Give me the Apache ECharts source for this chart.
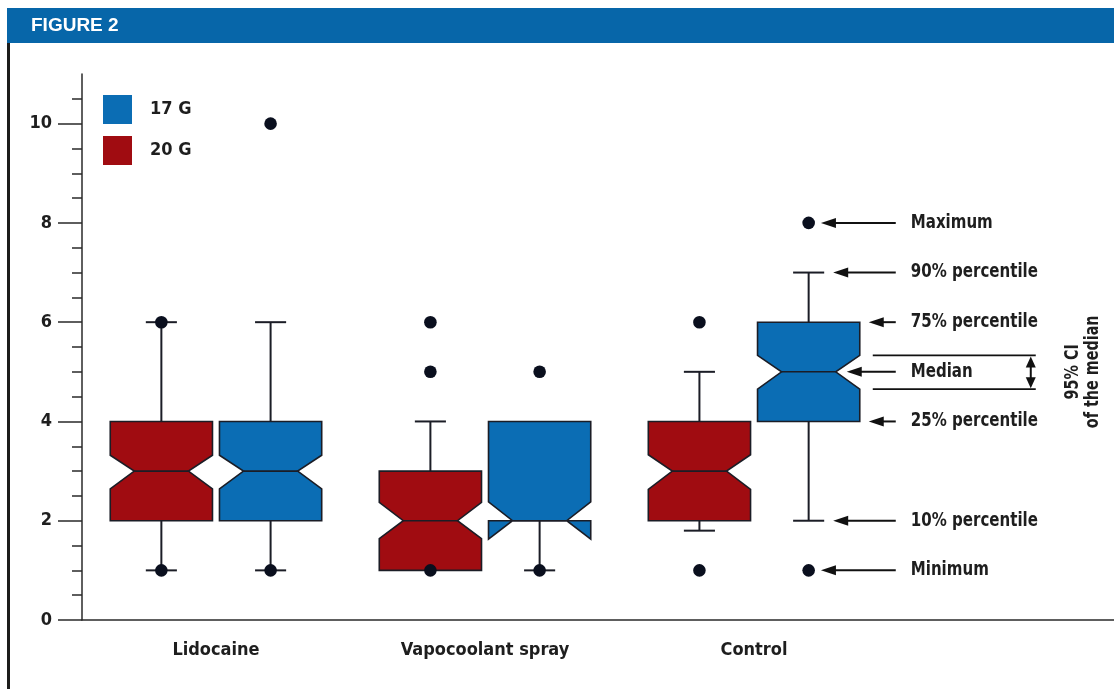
<!DOCTYPE html>
<html><head><meta charset="utf-8">
<script src="https://cdn.jsdelivr.net/npm/echarts@6/dist/echarts.min.js"></script>
<style>html,body{margin:0;padding:0;background:#fff}#c{width:1114px;height:689px}</style>
</head><body><div id="c"></div>
<script>
// ---------- data ----------
const categories = ['Lidocaine', 'Vapocoolant spray', 'Control'];
const seriesNames = ['17 G', '20 G'];

// 17 G (blue)
const g17Low     = [1, 1, 2];       // 10% percentile
const g17Q1      = [2, 2, 4];
const g17Median  = [3, 2, 5];
const g17Q3      = [4, 4, 6];
const g17High    = [6, 4, 7];       // 90% percentile
const g17NotchLo = [2.64, 1.63, 4.65];
const g17NotchHi = [3.32, 2.38, 5.33];
const g17Points  = [[1, 10], [1, 5], [1, 8]];

// 20 G (red)
const g20Low     = [1, 1, 1.8];
const g20Q1      = [2, 1, 2];
const g20Median  = [3, 2, 3];
const g20Q3      = [4, 3, 4];
const g20High    = [6, 4, 5];
const g20NotchLo = [2.64, 1.64, 2.63];
const g20NotchHi = [3.32, 2.37, 3.33];
const g20Points  = [[1, 6], [1, 5, 6], [1, 6]];

const yMajorTicks = [0, 2, 4, 6, 8, 10];
const yMinorTicks = [0.5, 1, 1.5, 2.5, 3, 3.5, 4.5, 5, 5.5, 6.5, 7, 7.5, 8.5, 9, 9.5, 10.5];

const keyLabels = ['Minimum', '10% percentile', '25% percentile', 'Median', '75% percentile', '90% percentile', 'Maximum'];
const ciLabel = '95% CI\nof the median';
const keyGroup = 2; // the annotated box: Control, 17 G

// ---------- style / layout ----------
const BLUE = '#0b6db4', RED = '#a00c11', HEADER = '#0766a9', INK = '#1b1d26', TXT = '#1e1e1e';
const FONT = '"Liberation Sans Narrow", "DejaVu Sans Condensed", "Arial Narrow", sans-serif';
const BOX_W = 0.38, BOX_OFFSET = 0.203, NOTCH_INSET = 0.235, CAP_HALF = 0.152, DOT_R = 6.3;

function boxData(low, q1, med, q3, high, nlo, nhi) {
  return categories.map((c, i) => [i, low[i], q1[i], med[i], q3[i], high[i], nlo[i], nhi[i]]);
}
function pointData(pts) {
  return pts.flatMap((arr, i) => arr.map(v => [i, v]));
}
function geom(api, gi, side) {
  const unit = api.size([1, 0])[0];
  const w = unit * BOX_W;
  const cx = api.coord([gi, 0])[0] + side * unit * BOX_OFFSET;
  return { unit, w, cx, L: cx - w / 2, R: cx + w / 2, ins: w * NOTCH_INSET, cap: w * CAP_HALF, y: v => api.coord([gi, v])[1] };
}
function makeBoxRender(side, color) {
  return function (params, api) {
    const gi = api.value(0);
    const g = geom(api, gi, side);
    const low = api.value(1), q1 = api.value(2), med = api.value(3), q3 = api.value(4), high = api.value(5), nlo = api.value(6), nhi = api.value(7);
    const y = g.y, L = g.L, R = g.R, ins = g.ins;
    const lineStyle = { stroke: INK, lineWidth: 2 };
    const children = [];
    if (high > q3) {
      children.push({ type: 'line', shape: { x1: g.cx, y1: y(q3), x2: g.cx, y2: y(high) }, style: lineStyle });
      children.push({ type: 'line', shape: { x1: g.cx - g.cap, y1: y(high), x2: g.cx + g.cap, y2: y(high) }, style: lineStyle });
    }
    if (low < q1) {
      children.push({ type: 'line', shape: { x1: g.cx, y1: y(q1), x2: g.cx, y2: y(low) }, style: lineStyle });
      children.push({ type: 'line', shape: { x1: g.cx - g.cap, y1: y(low), x2: g.cx + g.cap, y2: y(low) }, style: lineStyle });
    }
    const pts = [[L, y(q3)], [L, y(nhi)], [L + ins, y(med)], [L, y(nlo)], [L, y(q1)],
                 [R, y(q1)], [R, y(nlo)], [R - ins, y(med)], [R, y(nhi)], [R, y(q3)]];
    children.push({ type: 'polygon', shape: { points: pts }, style: { fill: color, stroke: INK, lineWidth: 1.6, lineJoin: 'miter' } });
    children.push({ type: 'line', shape: { x1: L + ins, y1: y(med), x2: R - ins, y2: y(med) }, style: { stroke: INK, lineWidth: 1.6 } });
    return { type: 'group', children };
  };
}
function makePointRender(side) {
  return function (params, api) {
    const g = geom(api, api.value(0), side);
    return { type: 'circle', shape: { cx: g.cx, cy: g.y(api.value(1)), r: DOT_R }, style: { fill: '#0a0f1e' } };
  };
}
function arrow(tipX, tailX, yy, children) {
  const hl = 15, hw = 5;
  children.push({ type: 'line', shape: { x1: tipX + hl - 2, y1: yy, x2: tailX, y2: yy }, style: { stroke: '#111', lineWidth: 2 } });
  children.push({ type: 'polygon', shape: { points: [[tipX, yy], [tipX + hl, yy - hw], [tipX + hl, yy + hw]] }, style: { fill: '#111' } });
}
function keyRender(params, api) {
  const g = geom(api, api.value(0), 1);
  const y = g.y;
  const vMin = api.value(1), p10 = api.value(2), q1 = api.value(3), med = api.value(4), q3 = api.value(5), p90 = api.value(6), vMax = api.value(7), nlo = api.value(8), nhi = api.value(9);
  const tail = g.R + 36, tx = g.R + 51;
  const tips = [g.cx + DOT_R + 6, g.cx + g.cap + 9, g.R + 9, g.R - g.ins + 11, g.R + 9, g.cx + g.cap + 9, g.cx + DOT_R + 6];
  const vals = [vMin, p10, q1, med, q3, p90, vMax];
  const children = [];
  vals.forEach((v, i) => {
    arrow(tips[i], tail, y(v), children);
    children.push({ type: 'text', x: tx, y: y(v), scaleX: 0.88,
      style: { text: keyLabels[i], x: 0, y: 0, fill: TXT, font: 'bold 19px ' + FONT, align: 'left', verticalAlign: 'middle' } });
  });
  // CI bracket
  const bx1 = g.R + 13, bx2 = g.R + 176, ax = g.R + 171;
  [nhi, nlo].forEach(v => children.push({ type: 'line', shape: { x1: bx1, y1: y(v), x2: bx2, y2: y(v) }, style: { stroke: '#111', lineWidth: 1.8 } }));
  const yT = y(nhi) + 1, yB = y(nlo) - 1;
  children.push({ type: 'line', shape: { x1: ax, y1: yT + 8, x2: ax, y2: yB - 8 }, style: { stroke: '#111', lineWidth: 2 } });
  children.push({ type: 'polygon', shape: { points: [[ax, yT], [ax - 5, yT + 11], [ax + 5, yT + 11]] }, style: { fill: '#111' } });
  children.push({ type: 'polygon', shape: { points: [[ax, yB], [ax - 5, yB - 11], [ax + 5, yB - 11]] }, style: { fill: '#111' } });
  children.push({ type: 'text', x: g.R + 223, y: y(med), rotation: Math.PI / 2, scaleX: 0.84,
    style: { text: ciLabel, x: 0, y: 0, fill: TXT, font: 'bold 19px ' + FONT, align: 'center', verticalAlign: 'middle', lineHeight: 20 } });
  return { type: 'group', children };
}

const keyData = [[keyGroup, Math.min(...g17Points[keyGroup]), g17Low[keyGroup], g17Q1[keyGroup], g17Median[keyGroup],
  g17Q3[keyGroup], g17High[keyGroup], Math.max(...g17Points[keyGroup]), g17NotchLo[keyGroup], g17NotchHi[keyGroup]]];

const chart = echarts.init(document.getElementById('c'), null, { renderer: 'canvas' });
chart.setOption({
  animation: false,
  backgroundColor: '#fff',
  graphic: [
    { type: 'rect', left: 7, top: 8, shape: { width: 1107, height: 35 }, style: { fill: HEADER }, z: 10 },
    { type: 'text', left: 31, top: 16, style: { text: 'FIGURE 2', fill: '#fff', font: 'bold 19px "Liberation Sans", Arial, sans-serif' }, z: 11 },
    { type: 'rect', left: 7, top: 43, shape: { width: 3, height: 646 }, style: { fill: '#1d1d1b' }, z: 10 }
  ],
  legend: {
    data: seriesNames, orient: 'vertical', left: 103, top: 95, padding: 0, itemWidth: 29, itemHeight: 29, itemGap: 12,
    icon: 'rect', selectedMode: false,
    textStyle: { fontFamily: FONT, fontWeight: 'bold', fontSize: 18, color: TXT, padding: [4, 0, 0, 13] }
  },
  grid: { left: 82, right: 0, top: 74, bottom: 69 },
  xAxis: {
    type: 'value', min: -0.498, max: 3.338,
    splitLine: { show: false },
    axisLine: { show: true, onZero: false, lineStyle: { color: '#2a2a2a', width: 1.5 } },
    axisTick: { show: false },
    axisLabel: { customValues: categories.map((c, i) => i), formatter: v => categories[Math.round(v)] || '',
      margin: 21, fontFamily: FONT, fontWeight: 'bold', fontSize: 18, color: TXT }
  },
  yAxis: [
    { type: 'value', min: 0, max: 11, position: 'left',
      splitLine: { show: false },
      axisLine: { show: true, onZero: false, lineStyle: { color: '#2a2a2a', width: 1.5 } },
      axisTick: { show: true, customValues: yMajorTicks, length: 24, lineStyle: { color: '#2a2a2a', width: 1.5 } },
      axisLabel: { customValues: yMajorTicks, margin: 30, fontFamily: FONT, fontWeight: 'bold', fontSize: 18, color: TXT } },
    { type: 'value', min: 0, max: 11, position: 'left',
      splitLine: { show: false },
      axisLine: { show: false, onZero: false },
      axisTick: { show: true, customValues: yMinorTicks, length: 10, lineStyle: { color: '#2a2a2a', width: 1.5 } },
      axisLabel: { show: false } }
  ],
  series: [
    { name: '17 G', type: 'custom', renderItem: makeBoxRender(1, BLUE), itemStyle: { color: BLUE },
      data: boxData(g17Low, g17Q1, g17Median, g17Q3, g17High, g17NotchLo, g17NotchHi), z: 2 },
    { name: '20 G', type: 'custom', renderItem: makeBoxRender(-1, RED), itemStyle: { color: RED },
      data: boxData(g20Low, g20Q1, g20Median, g20Q3, g20High, g20NotchLo, g20NotchHi), z: 2 },
    { name: '17 G', type: 'custom', renderItem: makePointRender(1), itemStyle: { color: BLUE }, data: pointData(g17Points), z: 3 },
    { name: '20 G', type: 'custom', renderItem: makePointRender(-1), itemStyle: { color: RED }, data: pointData(g20Points), z: 3 },
    { name: 'key', type: 'custom', renderItem: keyRender, data: keyData, z: 3, silent: true }
  ]
});
</script></body></html>
